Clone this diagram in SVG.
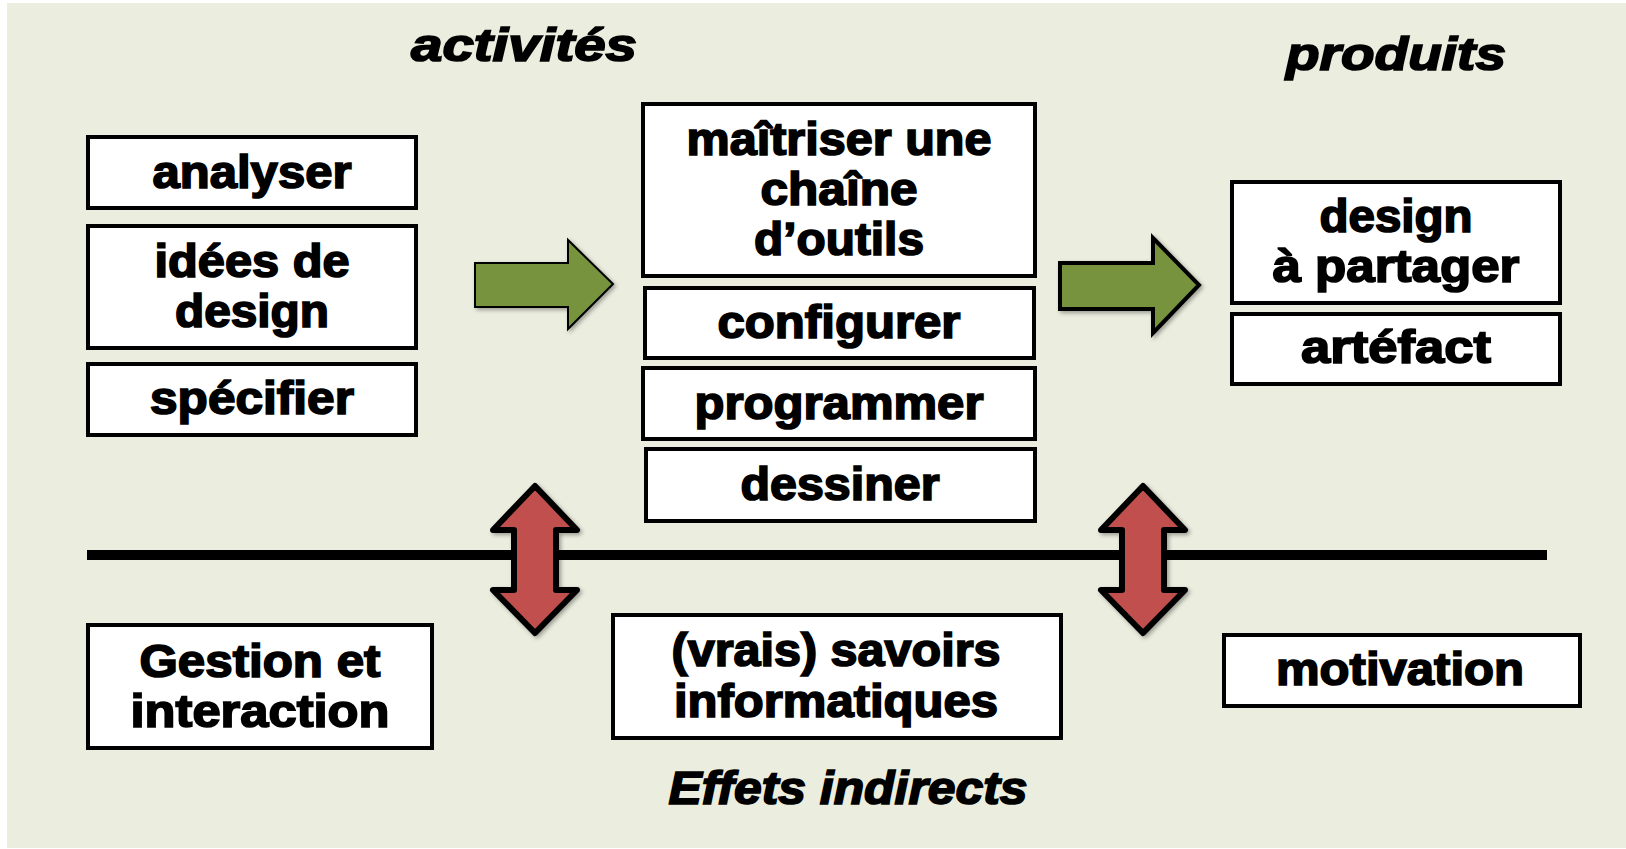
<svg xmlns="http://www.w3.org/2000/svg" width="1626" height="849" viewBox="0 0 1626 849">
<defs>
<style>
.box{fill:#fff;stroke:#000;stroke-width:4}
.lbl{font-family:"Liberation Sans",Arial,sans-serif;font-weight:bold;font-size:46px;fill:#000;stroke:#000;stroke-width:1.7;text-anchor:middle}
.ttl{font-family:"Liberation Sans",Arial,sans-serif;font-weight:bold;font-style:italic;font-size:46px;fill:#000;stroke:#000;stroke-width:1.7;text-anchor:middle}
.garrow{fill:#77933C;stroke:#000;stroke-linejoin:miter}
.rarrow{fill:#C0504D;stroke:#000;stroke-width:6;stroke-linejoin:round}
</style>
<filter id="sh" x="-20%" y="-20%" width="140%" height="140%">
<feDropShadow dx="2" dy="2" stdDeviation="2" flood-color="#000" flood-opacity="0.35"/>
</filter>
</defs>
<rect x="7" y="3" width="1619" height="845" fill="#EBEEDF"/>

<g id="title-activites"><text class="ttl" x="524" y="61" textLength="226" lengthAdjust="spacingAndGlyphs">activités</text></g>
<g id="title-produits"><text class="ttl" x="1396" y="70" textLength="220" lengthAdjust="spacingAndGlyphs">produits</text></g>
<g id="title-effets"><text class="ttl" x="848" y="804" textLength="359" lengthAdjust="spacingAndGlyphs">Effets indirects</text></g>

<g id="connectors">
<line x1="87" y1="555" x2="1547" y2="555" stroke="#000" stroke-width="10"/>
<path class="garrow" filter="url(#sh)" stroke-width="2" d="M475,263 L568,263 L568,240 L613,284 L568,329 L568,307 L475,307 Z"/>
<path class="garrow" filter="url(#sh)" stroke-width="4" d="M1060,263 L1153,263 L1153,238 L1199,285 L1153,333 L1153,309 L1060,309 Z"/>
<path class="rarrow" filter="url(#sh)" d="M535,486 L577,530 L556,530 L556,590 L577,590 L535,633 L493,590 L514,590 L514,530 L493,530 Z"/>
<path class="rarrow" filter="url(#sh)" d="M1143,486 L1185,530 L1164,530 L1164,590 L1185,590 L1143,633 L1101,590 L1122,590 L1122,530 L1101,530 Z"/>
</g>

<g id="analyser"><rect class="box" x="88" y="137" width="328" height="71"/>
<text class="lbl" x="252" y="188" textLength="199" lengthAdjust="spacingAndGlyphs">analyser</text></g>

<g id="idees"><rect class="box" x="88" y="226" width="328" height="122"/>
<text class="lbl" x="252" y="277" textLength="195" lengthAdjust="spacingAndGlyphs">idées de</text>
<text class="lbl" x="252" y="327" textLength="154" lengthAdjust="spacingAndGlyphs">design</text></g>

<g id="specifier"><rect class="box" x="88" y="364" width="328" height="71"/>
<text class="lbl" x="252" y="414" textLength="204" lengthAdjust="spacingAndGlyphs">spécifier</text></g>

<g id="maitriser"><rect class="box" x="643" y="104" width="392" height="172"/>
<text class="lbl" x="839" y="155" textLength="305" lengthAdjust="spacingAndGlyphs">maîtriser une</text>
<text class="lbl" x="839" y="205" textLength="157" lengthAdjust="spacingAndGlyphs">chaîne</text>
<text class="lbl" x="839" y="255" textLength="170" lengthAdjust="spacingAndGlyphs">d’outils</text></g>

<g id="configurer"><rect class="box" x="645" y="288" width="389" height="70"/>
<text class="lbl" x="839" y="338" textLength="243" lengthAdjust="spacingAndGlyphs">configurer</text></g>

<g id="programmer"><rect class="box" x="643" y="368" width="392" height="71"/>
<text class="lbl" x="839" y="419" textLength="289" lengthAdjust="spacingAndGlyphs">programmer</text></g>

<g id="dessiner"><rect class="box" x="646" y="449" width="389" height="72"/>
<text class="lbl" x="840" y="500" textLength="199" lengthAdjust="spacingAndGlyphs">dessiner</text></g>

<g id="design-partager"><rect class="box" x="1232" y="182" width="328" height="121"/>
<text class="lbl" x="1396" y="232" textLength="153" lengthAdjust="spacingAndGlyphs">design</text>
<text class="lbl" x="1396" y="282" textLength="247" lengthAdjust="spacingAndGlyphs">à partager</text></g>

<g id="artefact"><rect class="box" x="1232" y="314" width="328" height="70"/>
<text class="lbl" x="1396" y="363" textLength="190" lengthAdjust="spacingAndGlyphs">artéfact</text></g>

<g id="gestion"><rect class="box" x="88" y="625" width="344" height="123"/>
<text class="lbl" x="260" y="677" textLength="241" lengthAdjust="spacingAndGlyphs">Gestion et</text>
<text class="lbl" x="260" y="727" textLength="259" lengthAdjust="spacingAndGlyphs">interaction</text></g>

<g id="savoirs"><rect class="box" x="613" y="615" width="448" height="123"/>
<text class="lbl" x="836" y="666" textLength="329" lengthAdjust="spacingAndGlyphs">(vrais) savoirs</text>
<text class="lbl" x="836" y="717" textLength="324" lengthAdjust="spacingAndGlyphs">informatiques</text></g>

<g id="motivation"><rect class="box" x="1224" y="635" width="356" height="71"/>
<text class="lbl" x="1400" y="685" textLength="248" lengthAdjust="spacingAndGlyphs">motivation</text></g>
</svg>
